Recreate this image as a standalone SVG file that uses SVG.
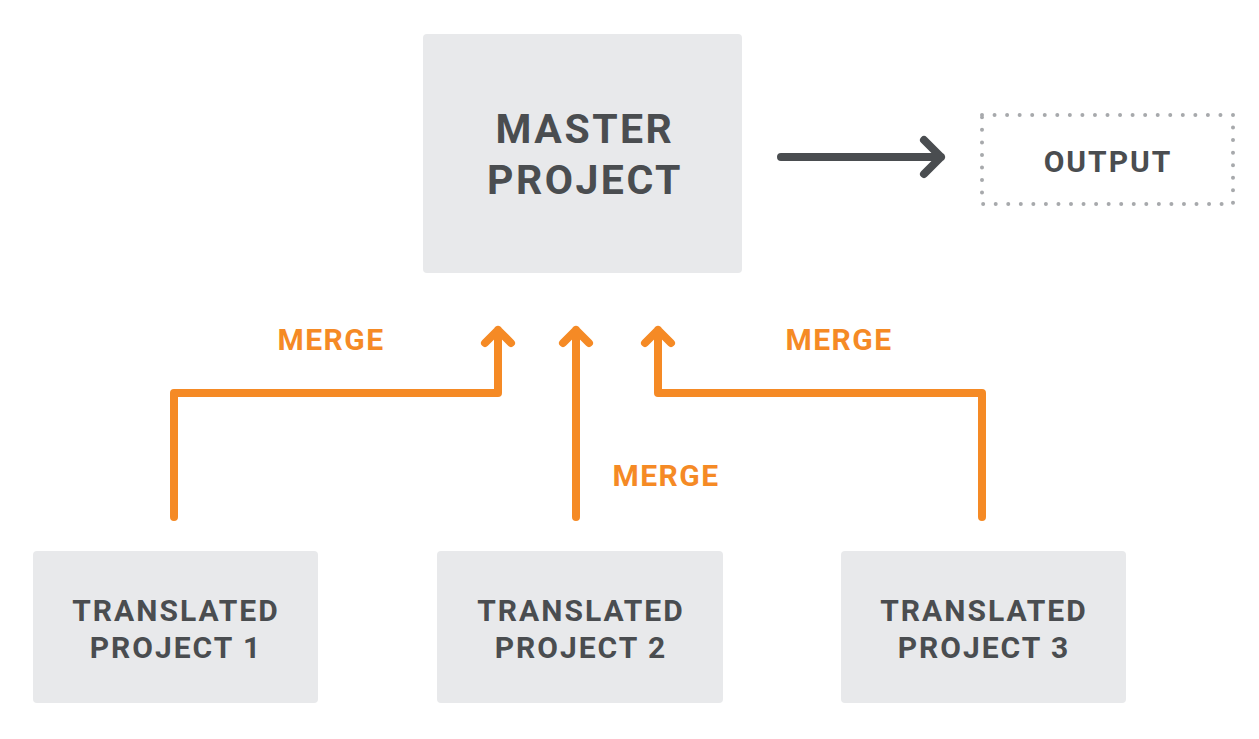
<svg xmlns="http://www.w3.org/2000/svg" width="1259" height="739" viewBox="0 0 1259 739">
<defs>
<style>
.box{fill:#e8e9eb}
.t{font-family:Roboto,"Liberation Sans",sans-serif;font-weight:700;fill:#4a4d50;text-anchor:middle}
.big{font-size:41px;letter-spacing:2.5px}
.mid{font-size:30px;letter-spacing:2px}
.lbl{font-family:Roboto,"Liberation Sans",sans-serif;font-weight:700;fill:#f58a25;text-anchor:middle;font-size:30px;letter-spacing:1.5px}
.or{fill:none;stroke:#f58a25;stroke-width:8;stroke-linecap:round;stroke-linejoin:round}
.dk{fill:none;stroke:#4a4d50;stroke-width:8;stroke-linecap:round;stroke-linejoin:round}
</style>
</defs>
<rect width="1259" height="739" fill="#fff"/>
<g id="master">
<rect class="box" x="423" y="34" width="319" height="239" rx="4"/>
<text class="t big" x="585" y="143">MASTER</text>
<text class="t big" x="585" y="194">PROJECT</text>
</g>
<g id="output">
<rect x="982" y="115" width="251" height="89" fill="none" stroke="#a7a9ac" stroke-width="4" stroke-linecap="round" stroke-dasharray="0 12.55"/>
<text class="t mid" x="1108" y="172">OUTPUT</text>
</g>
<g id="tp1">
<rect class="box" x="33" y="551" width="285" height="152" rx="4"/>
<text class="t mid" x="176" y="621">TRANSLATED</text>
<text class="t mid" x="176" y="658">PROJECT 1</text>
</g>
<g id="tp2">
<rect class="box" x="437" y="551" width="286" height="152" rx="4"/>
<text class="t mid" x="581" y="621">TRANSLATED</text>
<text class="t mid" x="581" y="658">PROJECT 2</text>
</g>
<g id="tp3">
<rect class="box" x="841" y="551" width="285" height="152" rx="4"/>
<text class="t mid" x="984" y="621">TRANSLATED</text>
<text class="t mid" x="984" y="658">PROJECT 3</text>
</g>
<g id="connectors">
<path class="dk" d="M781 157H941M924 140L941 157L924 174"/>
<path class="or" d="M174 517V393H498V330M485 343L498 330L511 343"/>
<path class="or" d="M576 517V330M563 343L576 330L589 343"/>
<path class="or" d="M982 517V393H658V330M645 343L658 330L671 343"/>
<text class="lbl" x="331" y="350">MERGE</text>
<text class="lbl" x="666" y="486">MERGE</text>
<text class="lbl" x="839" y="350">MERGE</text>
</g>
</svg>
